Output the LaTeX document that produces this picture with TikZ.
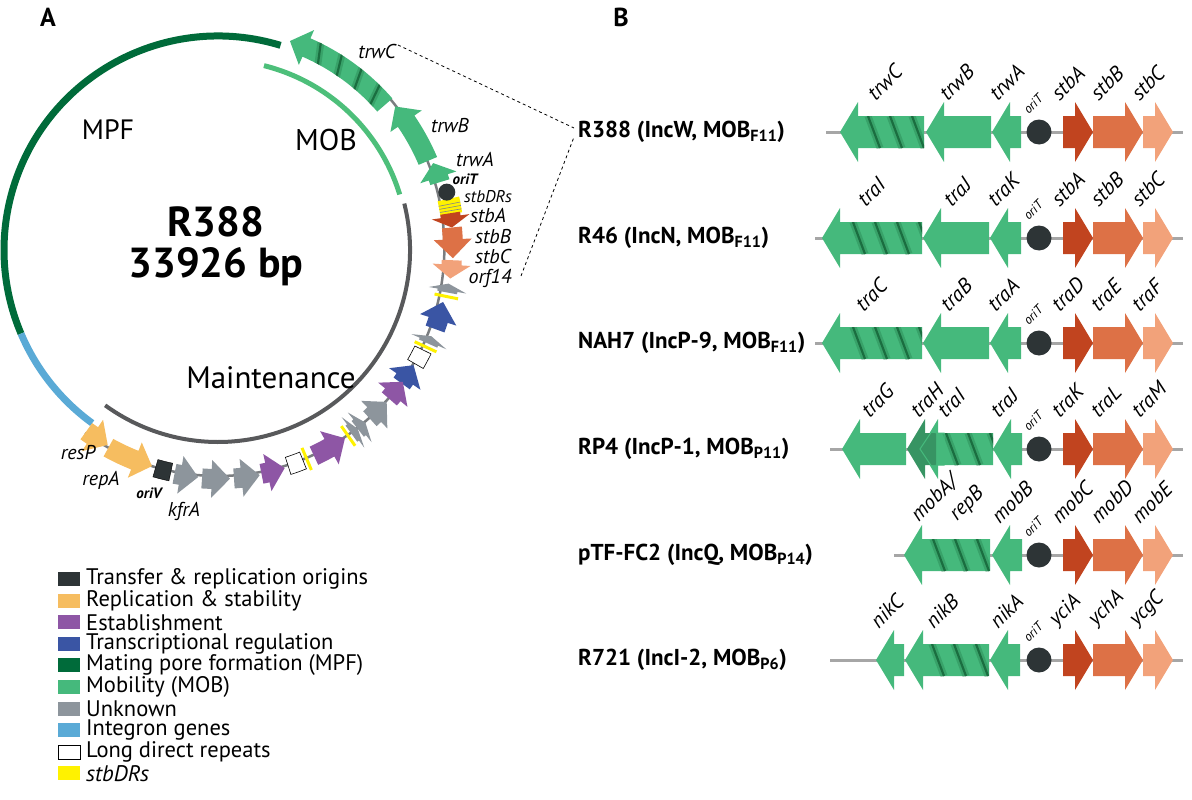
\documentclass[tikz,border=0pt]{standalone}
\usepackage{fontspec}
\setmainfont{PT Sans}
\definecolor{mpf}{HTML}{006B3A}
\definecolor{mob}{HTML}{45B97C}
\definecolor{mobl}{HTML}{4DBF7A}
\definecolor{strp}{HTML}{1A6E40}
\definecolor{drk}{HTML}{2D3436}
\definecolor{repc}{HTML}{F6BD60}
\definecolor{estc}{HTML}{8E56A5}
\definecolor{trc}{HTML}{3A55A4}
\definecolor{unk}{HTML}{8D959C}
\definecolor{intc}{HTML}{5AAAD6}
\definecolor{stbdr}{HTML}{FFF200}
\definecolor{oA}{HTML}{C1441F}
\definecolor{oB}{HTML}{DD7146}
\definecolor{oC}{HTML}{F2A27A}
\definecolor{bb}{HTML}{7A7D80}
\definecolor{mnt}{HTML}{58595B}
\newcommand\fs[1]{\fontsize{#1}{#1}\selectfont}
% curved gene: a1 a2 colour radius
\newcommand\cgene[4]{%
 \pgfmathsetmacro\gHl{min(4.6,abs(#2-#1)*0.75)}%
 \pgfmathsetmacro\gAh{#2-sign(#2-#1)*\gHl}%
 \pgfmathsetmacro\gRi{#4-10}\pgfmathsetmacro\gRo{#4+10}%
 \pgfmathsetmacro\gHi{#4-19}\pgfmathsetmacro\gHo{#4+19}%
 \fill[#3] (#1:\gRi) arc[start angle=#1,end angle=\gAh,radius=\gRi] -- (\gAh:\gHi) -- (#2:#4) -- (\gAh:\gHo) -- (\gAh:\gRo) arc[start angle=\gAh,end angle=#1,radius=\gRo] -- cycle;}
\newcommand\cbox[4]{% a1 a2 fill radius
 \pgfmathsetmacro\gRi{#4-9}\pgfmathsetmacro\gRo{#4+9}%
 \draw[#3] (#1:\gRi) arc[start angle=#1,end angle=#2,radius=\gRi] -- (#2:\gRo) arc[start angle=#2,end angle=#1,radius=\gRo] -- cycle;}
\newcommand\cbar[2]{\draw[stbdr,line width=3] (#1:#2-12) -- (#1:#2+12);}
% straight gene: x1 x2(tip) Y colour
\newcommand\sgene[4]{%
 \pgfmathsetmacro\gH{min(18,abs(#2-#1)*0.8)}%
 \pgfmathsetmacro\gXh{#2-sign(#2-#1)*\gH}%
 \fill[#4] ({#1},{-#3+16}) -- ({\gXh},{-#3+16}) -- ({\gXh},{-#3+30}) -- ({#2},{-#3}) -- ({\gXh},{-#3-30}) -- ({\gXh},{-#3-16}) -- ({#1},{-#3-16}) -- cycle;}
\newcommand\sstripes[3]{%
 \begin{scope}
 \clip ({#1},{-#3-16}) rectangle ({#2},{-#3+16});
 \foreach \s in {10,32,...,120}{
  \draw[strp,line width=7,opacity=.3] ({#1+\s},{-#3+16}) -- ({#1+\s+12},{-#3-16});
  \draw[strp,line width=2.2] ({#1+\s},{-#3+16}) -- ({#1+\s+12},{-#3-16});}
 \end{scope}}
\newcommand\sline[2]{\draw[gray!70,line width=3] ({#1},{-#2}) -- (1183,{-#2});}
\newcommand\sorit[1]{\fill[drk] (1039,{-#1}) circle (12.5);
 \node[font=\itshape\fs{13},anchor=south west,rotate=45,inner sep=0] at (1029,{-#1+17}) {oriT};}
\newcommand\glab[3]{\node[font=\itshape\fs{21},anchor=south west,rotate=45,inner sep=0] at ({#1},{-#2+30}) {#3};}
\newcommand\orange[4]{\sgene{1063}{1093}{#1}{oA}\sgene{1093}{1143}{#1}{oB}\sgene{1143}{1173}{#1}{oC}
 \glab{1060}{#1}{#2}\glab{1099}{#1}{#3}\glab{1140}{#1}{#4}}
\begin{document}
\begin{tikzpicture}[x=1pt,y=1pt,
  rowlab/.style={anchor=west,font=\bfseries\fs{23},inner sep=0},
  clab/.style={font=\itshape\fs{20},inner sep=0},
  leg/.style={anchor=west,font=\fs{22.5},inner sep=0}]
\useasboundingbox (0,0) rectangle (1192,-800);
\node[font=\bfseries\fs{26}] (lA) at (48,-17) {A};
\node[font=\bfseries\fs{26}] (lB) at (621,-17) {B};
% ---------- circle map
\begin{scope}[shift={(218,-250)}]
 \draw[mpf,line width=7] (73:214) arc[start angle=73,end angle=203,radius=214];
 \draw[intc,line width=7] (203:214) arc[start angle=203,end angle=234,radius=214];
 \draw[mobl,line width=5] (76:190) arc[start angle=76,end angle=17,radius=190];
 \draw[mnt,line width=4] (14:192) arc[start angle=14,end angle=-126,radius=192];
 \draw[bb,line width=2.5] (-126:226) arc[start angle=-126,end angle=-20,radius=226] arc[start angle=-20,end angle=41,radius=232];
 % MOB region
 \cgene{41}{71}{mob}{221}
 \begin{scope}
  \clip (41:211) arc[start angle=41,end angle=66,radius=211] -- (66:231) arc[start angle=66,end angle=41,radius=231] -- cycle;
  \foreach \a in {46,52,58,64}{
   \draw[strp,line width=7,opacity=.3] (\a:236) -- (\a-3:204);
   \draw[strp,line width=2.2] (\a:236) -- (\a-3:204);}
 \end{scope}
 \cgene{23}{39}{mob}{228}
 \cgene{17}{22}{mob}{232}
 \fill[stbdr] (12.5:225) arc[start angle=12.5,end angle=8.8,radius=225] -- (8.8:247) arc[start angle=8.8,end angle=12.5,radius=247] -- cycle;
 \foreach \a in {9.6,10.4,11.2}{\draw[drk!60,line width=.6] (\a:225) -- (\a:247);}
 \fill[drk] (14.2:236) circle (8.5);
 \cgene{9}{5.5}{oA}{235}
 \cgene{5.5}{-2}{oB}{235}
 \cgene{-2.5}{-7}{oC}{234}
 \cgene{-10.5}{-8.3}{unk}{233}
 \cbar{-11.5}{233}
 \cgene{-20}{-13}{trc}{231}
 \cgene{-24}{-22}{unk}{230}
 \cbar{-25}{229}
 \cbox{-26}{-30}{draw=black,line width=.6,fill=white}{228}
 \cgene{-36}{-30.5}{trc}{227}
 \cgene{-41}{-35.5}{estc}{227}
 \cgene{-48}{-42}{unk}{227}
 \cgene{-54}{-52}{unk}{227}
 \cgene{-52}{-49.5}{unk}{227}
 \cbar{-55}{227}
 \cgene{-65}{-56}{estc}{227}
 \cbar{-67}{227}
 \cbox{-68}{-72}{draw=black,line width=.6,fill=white}{227}
 \cgene{-79}{-73}{estc}{228}
 \cgene{-86}{-79.5}{unk}{229}
 \cgene{-94}{-87}{unk}{229}
 \cgene{-101}{-95}{unk}{228}
 \cbox{-102}{-106}{fill=drk}{227}
 \cgene{-119}{-107}{repc}{226}
 \cgene{-126}{-119.5}{repc}{224}
\end{scope}
\node[font=\fs{28}] (mpf) at (108,-130) {MPF};
\node[font=\fs{30}] (mobt) at (326,-140) {MOB};
\node[font=\fs{31}] (mnt) at (271,-378) {Maintenance};
\node[font=\bfseries\fs{42}] (r388) at (216,-222) {R388};
\node[font=\bfseries\fs{42}] (bp) at (216,-267) {33926 bp};
\node[clab] (l1) at (377,-52) {trwC};
\node[clab] (l2) at (450,-126) {trwB};
\node[clab] (l3) at (475,-160) {trwA};
\node[font=\bfseries\itshape\fs{15},inner sep=0] (l4) at (465,-179) {oriT};
\node[clab,font=\itshape\fs{17}] (l5) at (488,-197) {stbDRs};
\node[clab] (l6) at (488,-216) {stbA};
\node[clab] (l7) at (493,-237) {stbB};
\node[clab] (l8) at (493,-256) {stbC};
\node[clab] (l9) at (490,-278) {orf14};
\node[clab] (l10) at (78,-453) {resP};
\node[clab] (l11) at (101,-480) {repA};
\node[font=\bfseries\itshape\fs{15},inner sep=0] (l12) at (149,-493) {oriV};
\node[clab] (l13) at (184,-511) {kfrA};
\coordinate (d1a) at (398,-45);
\coordinate (d1b) at (574,-128);
\coordinate (d2a) at (521,-276);
\coordinate (d2b) at (574,-137);
\draw[dashed,line width=.8] (d1a) -- (d1b);
\draw[dashed,line width=.8] (d2a) -- (d2b);
% ---------- legend
\foreach \c/\t [count=\i from 0] in {drk/{Transfer \& replication origins},repc/{Replication \& stability},estc/Establishment,trc/Transcriptional regulation,mpf/Mating pore formation (MPF),mob/Mobility (MOB),unk/Unknown,intc/Integron genes}{
  \fill[\c] (58,{-579-21.6*\i+7}) rectangle (80,{-579-21.6*\i-7});
  \node[leg] (lg\i) at (86,{-579-21.6*\i}) {\t};}
\draw[line width=.5,fill=white] (58,{-579-21.6*8+7}) rectangle (80,{-579-21.6*8-7});
\node[leg] (lg8) at (86,{-579-21.6*8}) {Long direct repeats};
\fill[stbdr] (58,{-579-21.6*9+7}) rectangle (80,{-579-21.6*9-7});
\node[leg,font=\itshape\fs{22.5}] (lg9) at (86,{-579-21.6*9}) {stbDRs};
% ---------- panel B
% R388
\sline{826}{132}
\sgene{924}{840}{132}{mob}\sstripes{858}{924}{132}
\sgene{991}{926}{132}{mob}\sgene{1021}{992}{132}{mob}
\sorit{132}\orange{132}{stbA}{stbB}{stbC}
\glab{876}{132}{trwC}\glab{948}{132}{trwB}\glab{998}{132}{trwA}
\node[rowlab] (r1) at (578,-132) {R388 (IncW, MOB\textsubscript{F11})};
% R46
\sline{815}{238}
\sgene{922}{822}{238}{mob}\sstripes{843}{922}{238}
\sgene{989}{923}{238}{mob}\sgene{1021}{990}{238}{mob}
\sorit{238}\orange{238}{stbA}{stbB}{stbC}
\glab{866}{238}{traI}\glab{952}{238}{traJ}\glab{996}{238}{traK}
\node[rowlab] (r2) at (578,-238) {R46 (IncN, MOB\textsubscript{F11})};
% NAH7
\sline{815}{343}
\sgene{922}{822}{343}{mob}\sstripes{843}{922}{343}
\sgene{989}{923}{343}{mob}\sgene{1021}{990}{343}{mob}
\sorit{343}\orange{343}{traD}{traE}{traF}
\glab{864}{343}{traC}\glab{949}{343}{traB}\glab{996}{343}{traA}
\node[rowlab] (r3) at (578,-343) {NAH7 (IncP-9, MOB\textsubscript{F11})};
% RP4
\sline{830}{449}
\sgene{906}{842}{449}{mob}
\sgene{993}{920}{449}{mob}\sstripes{936}{993}{449}
\sgene{936}{907}{449}{mob!80!black}
\draw[mob,line width=1] (944,-433) -- (936,-433) -- (936,-425) -- (920,-449) -- (936,-473) -- (936,-465) -- (944,-465) -- cycle;
\sgene{1022}{993}{449}{mob}
\sorit{449}\orange{449}{traK}{traL}{traM}
\glab{870}{449}{traG}\glab{919}{449}{traH}\glab{946}{449}{traI}\glab{999}{449}{traJ}
\node[rowlab] (r4) at (578,-449) {RP4 (IncP-1, MOB\textsubscript{P11})};
% pTF-FC2
\sline{894}{555}
\sgene{990}{904}{555}{mob}\sstripes{923}{990}{555}
\sgene{1022}{992}{555}{mob}
\sorit{555}\orange{555}{mobC}{mobD}{mobE}
\glab{921}{555}{mobA/}\glab{960}{555}{repB}\glab{1000}{555}{mobB}
\node[rowlab] (r5) at (578,-555) {pTF-FC2 (IncQ, MOB\textsubscript{P14})};
% R721
\sline{830}{660}
\sgene{904}{876}{660}{mob}
\sgene{989}{905}{660}{mob}\sstripes{922}{989}{660}
\sgene{1020}{990}{660}{mob}
\sorit{660}\orange{660}{yciA}{ychA}{ycgC}
\glab{879}{660}{nikC}\glab{934}{660}{nikB}\glab{998}{660}{nikA}
\node[rowlab] (r6) at (578,-660) {R721 (IncI-2, MOB\textsubscript{P6})};
\end{tikzpicture}
\end{document}
